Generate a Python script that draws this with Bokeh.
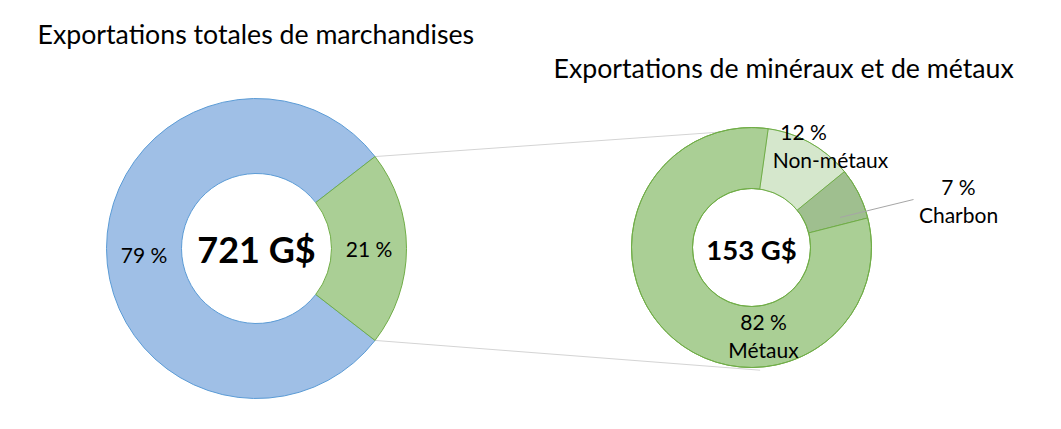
import math
from bokeh.plotting import figure
from bokeh.models import Range1d
from bokeh.core.properties import value
from bokeh.embed import file_html
from bokeh.resources import INLINE

# ---- data ----
left_labels = ["Autres", "Minéraux et métaux"]
left_values = [79, 21]
left_total = "721 G$"
left_title = "Exportations totales de marchandises"

right_labels = ["Non-métaux", "Charbon", "Métaux"]
right_values = [12, 7, 82]
right_total = "153 G$"
right_title = "Exportations de minéraux et de métaux"

W, H = 1061, 429
FONT = "Lato"

p = figure(width=1045, height=413, output_backend="svg", toolbar_location=None,
           x_range=Range1d(0, 1045), y_range=Range1d(H - 413, H), min_border=0)
p.axis.visible = False
p.grid.visible = False
p.outline_line_color = None
p.background_fill_color = "white"
p.border_fill_color = "white"


def Y(y):
    return H - y


def slices(vals, first_cw):
    tot = float(sum(vals))
    out = []
    c = first_cw
    for v in vals:
        s = c
        e = c + v / tot * 360.0
        out.append((s, e))
        c = e
    return out


def pt(cx, cy, r, cw_deg):
    a = math.radians(cw_deg)
    return cx + r * math.sin(a), cy - r * math.cos(a)


# geometry (layout)
LCX, LCY, LRO, LRI = 256, 248, 150, 75
RCX, RCY, RRO, RRI = 751, 247, 120, 59

left_sl = slices(left_values, 90 + left_values[1] / 2 / sum(left_values) * 360)
right_sl = slices(right_values, 8)

# connector lines
g_start, g_end = left_sl[1]
a1 = pt(LCX, LCY, LRO, g_start)
a2 = pt(LCX, LCY, LRO, g_end)
b1 = pt(RCX, RCY, RRO, right_sl[0][0])
b2 = pt(RCX, RCY, RRO + 3, 176)
p.segment(x0=[a1[0], a2[0]], y0=[Y(a1[1]), Y(a2[1])], x1=[b1[0], b2[0]], y1=[Y(b1[1]), Y(b2[1])],
          line_color="#d4d4d4", line_width=1)

left_fill = ["#9fbfe6", "#aacf95"]
left_line = ["#5b9bd5", "#70ad47"]
for (s, e), f, lc in zip(left_sl, left_fill, left_line):
    p.annular_wedge(x=LCX, y=Y(LCY), inner_radius=LRI, outer_radius=LRO,
                    start_angle=math.radians(90 - e), end_angle=math.radians(90 - s),
                    direction="anticlock", fill_color=f, line_color=lc, line_width=1)

right_fill = ["#d5e7cc", "#9fbf8f", "#aacf95"]
right_line = ["#a9cf95", "#70ad47", "#70ad47"]
for (s, e), f, lc in zip(right_sl, right_fill, right_line):
    p.annular_wedge(x=RCX, y=Y(RCY), inner_radius=RRI, outer_radius=RRO,
                    start_angle=math.radians(90 - e), end_angle=math.radians(90 - s),
                    direction="anticlock", fill_color=f, line_color=lc, line_width=1)
# outer/inner ring outline
p.circle(x=RCX, y=Y(RCY), radius=RRO, fill_color=None, line_color="#70ad47", line_width=1)
p.circle(x=RCX, y=Y(RCY), radius=RRI, fill_color=None, line_color="#70ad47", line_width=1)

# leader line for Charbon
c_mid = (right_sl[1][0] + right_sl[1][1]) / 2
lp = pt(RCX, RCY, (RRO + RRI) / 2 + 4, c_mid + 8)
p.segment(x0=[lp[0]], y0=[Y(lp[1])], x1=[913], y1=[Y(199)], line_color="#a6a6a6", line_width=1)


def txt(x, y, s, size, bold=False, align="center"):
    p.text(x=[x], y=[Y(y)], text=[s], text_font=value(FONT), text_font_size=f"{size}px",
           text_font_style="bold" if bold else "normal", text_align=align,
           text_baseline="middle", text_color="#000000")


# titles
txt(37, 33, left_title, 26.7, align="left")
txt(553, 67, right_title, 26.7, align="left")

# left labels
mid_r = (LRO + LRI) / 2
label_dy = [6, 0]
for (s, e), v, dy in zip(left_sl, left_values, label_dy):
    m = (s + e) / 2
    x, y = pt(LCX, LCY, mid_r, m)
    txt(x, y + dy, f"{v} %", 21)
txt(LCX, LCY, left_total, 36, bold=True)

# right labels
txt(RCX, RCY + 2, right_total, 27.5, bold=True)
txt(803, 131, f"{right_values[0]} %", 21)
txt(830, 159, right_labels[0], 21)
txt(958, 186, f"{right_values[1]} %", 21)
txt(958, 214, right_labels[1], 21)
txt(763, 321, f"{right_values[2]} %", 21)
txt(763, 349, right_labels[2], 21)

open("out.html", "w").write(file_html(p, INLINE))
